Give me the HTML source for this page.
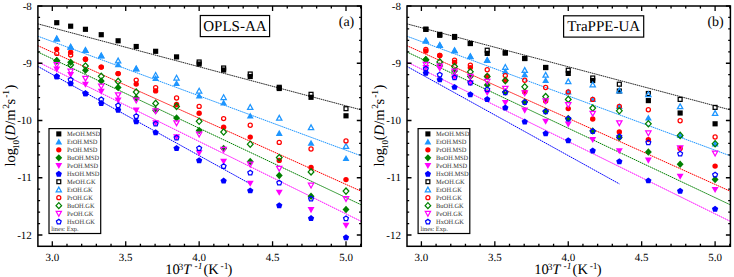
<!DOCTYPE html>
<html><head><meta charset="utf-8"><style>
html,body{margin:0;padding:0;background:#fff;width:734px;height:277px;overflow:hidden}
svg{display:block}
</style></head><body>
<svg width="734" height="277" viewBox="0 0 734 277" font-family='"Liberation Serif", serif' fill="#000" text-rendering="geometricPrecision"><line x1="37.90" y1="23.88" x2="361.30" y2="109.91" stroke="#000000" stroke-width="0.85" stroke-dasharray="1.6 0.6"/>
<line x1="37.90" y1="36.22" x2="361.30" y2="155.88" stroke="#1e96ff" stroke-width="1" stroke-dasharray="1.6 0.6"/>
<line x1="37.90" y1="45.70" x2="361.30" y2="191.30" stroke="#ff0000" stroke-width="1" stroke-dasharray="1.6 0.6"/>
<line x1="37.90" y1="52.01" x2="361.30" y2="204.85" stroke="#008000" stroke-width="1" stroke-dasharray="1.6 0.6"/>
<line x1="37.90" y1="61.96" x2="361.30" y2="221.40" stroke="#ff00ff" stroke-width="1" stroke-dasharray="1.6 0.6"/>
<line x1="37.90" y1="66.44" x2="250.30" y2="183.90" stroke="#0000ff" stroke-width="1" stroke-dasharray="1.6 0.6"/>
<rect x="54.16" y="20.11" width="5.17" height="5.17" fill="#000000"/>
<rect x="68.07" y="23.61" width="5.17" height="5.17" fill="#000000"/>
<rect x="82.87" y="26.71" width="5.17" height="5.17" fill="#000000"/>
<rect x="98.67" y="32.12" width="5.17" height="5.17" fill="#000000"/>
<rect x="115.54" y="38.21" width="5.17" height="5.17" fill="#000000"/>
<rect x="133.63" y="43.91" width="5.17" height="5.17" fill="#000000"/>
<rect x="153.05" y="48.71" width="5.17" height="5.17" fill="#000000"/>
<rect x="173.97" y="54.31" width="5.17" height="5.17" fill="#000000"/>
<rect x="196.56" y="61.41" width="5.17" height="5.17" fill="#000000"/>
<rect x="221.04" y="67.42" width="5.17" height="5.17" fill="#000000"/>
<rect x="247.64" y="73.92" width="5.17" height="5.17" fill="#000000"/>
<rect x="276.67" y="85.92" width="5.17" height="5.17" fill="#000000"/>
<rect x="308.45" y="94.72" width="5.17" height="5.17" fill="#000000"/>
<rect x="343.42" y="113.22" width="5.17" height="5.17" fill="#000000"/>
<polygon points="56.75,35.37 60.21,41.42 53.28,41.42" fill="#1e96ff"/>
<polygon points="70.66,43.57 74.12,49.62 67.19,49.62" fill="#1e96ff"/>
<polygon points="85.46,46.87 88.92,52.92 81.99,52.92" fill="#1e96ff"/>
<polygon points="101.25,52.27 104.72,58.32 97.79,58.32" fill="#1e96ff"/>
<polygon points="118.13,61.17 121.59,67.22 114.66,67.22" fill="#1e96ff"/>
<polygon points="136.21,65.27 139.68,71.32 132.75,71.32" fill="#1e96ff"/>
<polygon points="155.64,75.07 159.10,81.12 152.17,81.12" fill="#1e96ff"/>
<polygon points="176.56,79.97 180.02,86.02 173.09,86.02" fill="#1e96ff"/>
<polygon points="199.15,92.47 202.61,98.52 195.68,98.52" fill="#1e96ff"/>
<polygon points="223.63,99.57 227.09,105.62 220.16,105.62" fill="#1e96ff"/>
<polygon points="250.23,112.57 253.69,118.62 246.76,118.62" fill="#1e96ff"/>
<polygon points="279.25,129.87 282.72,135.92 275.79,135.92" fill="#1e96ff"/>
<polygon points="311.04,139.67 314.50,145.72 307.57,145.72" fill="#1e96ff"/>
<polygon points="346.00,154.97 349.46,161.02 342.54,161.02" fill="#1e96ff"/>
<circle cx="56.75" cy="49.10" r="2.70" fill="#ff0000"/>
<circle cx="70.66" cy="52.30" r="2.70" fill="#ff0000"/>
<circle cx="85.46" cy="59.20" r="2.70" fill="#ff0000"/>
<circle cx="101.25" cy="67.10" r="2.70" fill="#ff0000"/>
<circle cx="118.13" cy="73.60" r="2.70" fill="#ff0000"/>
<circle cx="136.21" cy="84.10" r="2.70" fill="#ff0000"/>
<circle cx="155.64" cy="90.90" r="2.70" fill="#ff0000"/>
<circle cx="176.56" cy="104.50" r="2.70" fill="#ff0000"/>
<circle cx="199.15" cy="113.20" r="2.70" fill="#ff0000"/>
<circle cx="223.63" cy="127.30" r="2.70" fill="#ff0000"/>
<circle cx="250.23" cy="137.10" r="2.70" fill="#ff0000"/>
<circle cx="279.25" cy="160.40" r="2.70" fill="#ff0000"/>
<circle cx="311.04" cy="167.50" r="2.70" fill="#ff0000"/>
<circle cx="346.00" cy="179.60" r="2.70" fill="#ff0000"/>
<polygon points="56.75,57.06 60.21,60.80 56.75,64.54 53.28,60.80" fill="#008000"/>
<polygon points="70.66,58.46 74.12,62.20 70.66,65.94 67.19,62.20" fill="#008000"/>
<polygon points="85.46,66.56 88.92,70.30 85.46,74.04 81.99,70.30" fill="#008000"/>
<polygon points="101.25,77.36 104.72,81.10 101.25,84.84 97.79,81.10" fill="#008000"/>
<polygon points="118.13,83.66 121.59,87.40 118.13,91.14 114.66,87.40" fill="#008000"/>
<polygon points="136.21,94.26 139.68,98.00 136.21,101.74 132.75,98.00" fill="#008000"/>
<polygon points="155.64,106.76 159.10,110.50 155.64,114.24 152.17,110.50" fill="#008000"/>
<polygon points="176.56,114.36 180.02,118.10 176.56,121.84 173.09,118.10" fill="#008000"/>
<polygon points="199.15,126.76 202.61,130.50 199.15,134.24 195.68,130.50" fill="#008000"/>
<polygon points="223.63,144.76 227.09,148.50 223.63,152.24 220.16,148.50" fill="#008000"/>
<polygon points="250.23,157.76 253.69,161.50 250.23,165.24 246.76,161.50" fill="#008000"/>
<polygon points="279.25,171.86 282.72,175.60 279.25,179.34 275.79,175.60" fill="#008000"/>
<polygon points="311.04,192.56 314.50,196.30 311.04,200.04 307.57,196.30" fill="#008000"/>
<polygon points="346.00,205.86 349.46,209.60 346.00,213.34 342.54,209.60" fill="#008000"/>
<polygon points="56.75,72.63 60.21,66.58 53.28,66.58" fill="#ff00ff"/>
<polygon points="70.66,78.03 74.12,71.98 67.19,71.98" fill="#ff00ff"/>
<polygon points="85.46,87.83 88.92,81.78 81.99,81.78" fill="#ff00ff"/>
<polygon points="101.25,94.83 104.72,88.78 97.79,88.78" fill="#ff00ff"/>
<polygon points="118.13,103.53 121.59,97.48 114.66,97.48" fill="#ff00ff"/>
<polygon points="136.21,113.63 139.68,107.58 132.75,107.58" fill="#ff00ff"/>
<polygon points="155.64,126.33 159.10,120.28 152.17,120.28" fill="#ff00ff"/>
<polygon points="176.56,140.33 180.02,134.28 173.09,134.28" fill="#ff00ff"/>
<polygon points="199.15,156.23 202.61,150.18 195.68,150.18" fill="#ff00ff"/>
<polygon points="223.63,164.83 227.09,158.78 220.16,158.78" fill="#ff00ff"/>
<polygon points="250.23,186.73 253.69,180.68 246.76,180.68" fill="#ff00ff"/>
<polygon points="279.25,195.73 282.72,189.68 275.79,189.68" fill="#ff00ff"/>
<polygon points="311.04,213.13 314.50,207.08 307.57,207.08" fill="#ff00ff"/>
<polygon points="346.00,228.73 349.46,222.68 342.54,222.68" fill="#ff00ff"/>
<polygon points="56.75,73.30 59.89,75.58 58.69,79.27 54.81,79.27 53.61,75.58" fill="#0000ff"/>
<polygon points="70.66,80.40 73.79,82.68 72.60,86.37 68.72,86.37 67.52,82.68" fill="#0000ff"/>
<polygon points="85.46,90.20 88.60,92.48 87.40,96.17 83.52,96.17 82.32,92.48" fill="#0000ff"/>
<polygon points="101.25,100.00 104.39,102.28 103.19,105.97 99.31,105.97 98.11,102.28" fill="#0000ff"/>
<polygon points="118.13,106.70 121.27,108.98 120.07,112.67 116.19,112.67 114.99,108.98" fill="#0000ff"/>
<polygon points="136.21,118.30 139.35,120.58 138.15,124.27 134.27,124.27 133.08,120.58" fill="#0000ff"/>
<polygon points="155.64,129.20 158.78,131.48 157.58,135.17 153.70,135.17 152.50,131.48" fill="#0000ff"/>
<polygon points="176.56,145.00 179.70,147.28 178.50,150.97 174.62,150.97 173.42,147.28" fill="#0000ff"/>
<polygon points="199.15,157.20 202.29,159.48 201.09,163.17 197.21,163.17 196.01,159.48" fill="#0000ff"/>
<polygon points="223.63,177.60 226.76,179.88 225.56,183.57 221.69,183.57 220.49,179.88" fill="#0000ff"/>
<polygon points="250.23,187.40 253.37,189.68 252.17,193.37 248.29,193.37 247.09,189.68" fill="#0000ff"/>
<polygon points="279.25,202.20 282.39,204.48 281.19,208.17 277.31,208.17 276.11,204.48" fill="#0000ff"/>
<polygon points="311.04,215.10 314.17,217.38 312.98,221.07 309.10,221.07 307.90,217.38" fill="#0000ff"/>
<polygon points="346.00,234.30 349.14,236.58 347.94,240.27 344.06,240.27 342.86,236.58" fill="#0000ff"/>
<rect x="197.19" y="60.04" width="3.92" height="3.92" fill="none" stroke="#000000" stroke-width="1.25"/>
<rect x="221.67" y="66.04" width="3.92" height="3.92" fill="none" stroke="#000000" stroke-width="1.25"/>
<rect x="248.27" y="72.04" width="3.92" height="3.92" fill="none" stroke="#000000" stroke-width="1.25"/>
<rect x="277.29" y="85.34" width="3.92" height="3.92" fill="none" stroke="#000000" stroke-width="1.25"/>
<rect x="309.08" y="92.34" width="3.92" height="3.92" fill="none" stroke="#000000" stroke-width="1.25"/>
<rect x="344.04" y="106.74" width="3.92" height="3.92" fill="none" stroke="#000000" stroke-width="1.25"/>
<polygon points="56.75,36.06 59.40,40.86 54.10,40.86" fill="none" stroke="#1e96ff" stroke-width="1.25"/>
<polygon points="70.66,44.26 73.31,49.06 68.00,49.06" fill="none" stroke="#1e96ff" stroke-width="1.25"/>
<polygon points="85.46,47.56 88.11,52.36 82.81,52.36" fill="none" stroke="#1e96ff" stroke-width="1.25"/>
<polygon points="101.25,52.96 103.90,57.76 98.60,57.76" fill="none" stroke="#1e96ff" stroke-width="1.25"/>
<polygon points="118.13,58.16 120.78,62.96 115.48,62.96" fill="none" stroke="#1e96ff" stroke-width="1.25"/>
<polygon points="136.21,65.96 138.87,70.76 133.56,70.76" fill="none" stroke="#1e96ff" stroke-width="1.25"/>
<polygon points="155.64,72.56 158.29,77.36 152.99,77.36" fill="none" stroke="#1e96ff" stroke-width="1.25"/>
<polygon points="176.56,75.26 179.21,80.06 173.91,80.06" fill="none" stroke="#1e96ff" stroke-width="1.25"/>
<polygon points="199.15,88.26 201.80,93.06 196.50,93.06" fill="none" stroke="#1e96ff" stroke-width="1.25"/>
<polygon points="223.63,94.76 226.28,99.56 220.97,99.56" fill="none" stroke="#1e96ff" stroke-width="1.25"/>
<polygon points="250.23,104.56 252.88,109.36 247.58,109.36" fill="none" stroke="#1e96ff" stroke-width="1.25"/>
<polygon points="279.25,115.36 281.90,120.16 276.60,120.16" fill="none" stroke="#1e96ff" stroke-width="1.25"/>
<polygon points="311.04,124.86 313.69,129.66 308.38,129.66" fill="none" stroke="#1e96ff" stroke-width="1.25"/>
<polygon points="346.00,143.66 348.65,148.46 343.35,148.46" fill="none" stroke="#1e96ff" stroke-width="1.25"/>
<circle cx="56.75" cy="53.40" r="2.07" fill="none" stroke="#ff0000" stroke-width="1.25"/>
<circle cx="70.66" cy="55.10" r="2.07" fill="none" stroke="#ff0000" stroke-width="1.25"/>
<circle cx="85.46" cy="59.20" r="2.07" fill="none" stroke="#ff0000" stroke-width="1.25"/>
<circle cx="101.25" cy="67.10" r="2.07" fill="none" stroke="#ff0000" stroke-width="1.25"/>
<circle cx="118.13" cy="73.60" r="2.07" fill="none" stroke="#ff0000" stroke-width="1.25"/>
<circle cx="136.21" cy="80.10" r="2.07" fill="none" stroke="#ff0000" stroke-width="1.25"/>
<circle cx="155.64" cy="87.60" r="2.07" fill="none" stroke="#ff0000" stroke-width="1.25"/>
<circle cx="176.56" cy="98.00" r="2.07" fill="none" stroke="#ff0000" stroke-width="1.25"/>
<circle cx="199.15" cy="106.40" r="2.07" fill="none" stroke="#ff0000" stroke-width="1.25"/>
<circle cx="223.63" cy="118.60" r="2.07" fill="none" stroke="#ff0000" stroke-width="1.25"/>
<circle cx="250.23" cy="125.20" r="2.07" fill="none" stroke="#ff0000" stroke-width="1.25"/>
<circle cx="279.25" cy="142.40" r="2.07" fill="none" stroke="#ff0000" stroke-width="1.25"/>
<circle cx="311.04" cy="149.00" r="2.07" fill="none" stroke="#ff0000" stroke-width="1.25"/>
<circle cx="346.00" cy="140.90" r="2.07" fill="none" stroke="#ff0000" stroke-width="1.25"/>
<polygon points="56.75,57.68 59.59,60.80 56.75,63.91 53.91,60.80" fill="none" stroke="#008000" stroke-width="1.25"/>
<polygon points="70.66,61.79 73.50,64.90 70.66,68.02 67.82,64.90" fill="none" stroke="#008000" stroke-width="1.25"/>
<polygon points="85.46,62.88 88.30,66.00 85.46,69.11 82.62,66.00" fill="none" stroke="#008000" stroke-width="1.25"/>
<polygon points="101.25,73.19 104.09,76.30 101.25,79.41 98.41,76.30" fill="none" stroke="#008000" stroke-width="1.25"/>
<polygon points="118.13,78.29 120.97,81.40 118.13,84.52 115.29,81.40" fill="none" stroke="#008000" stroke-width="1.25"/>
<polygon points="136.21,88.89 139.05,92.00 136.21,95.11 133.37,92.00" fill="none" stroke="#008000" stroke-width="1.25"/>
<polygon points="155.64,100.29 158.48,103.40 155.64,106.52 152.80,103.40" fill="none" stroke="#008000" stroke-width="1.25"/>
<polygon points="176.56,103.29 179.40,106.40 176.56,109.52 173.72,106.40" fill="none" stroke="#008000" stroke-width="1.25"/>
<polygon points="199.15,118.19 201.99,121.30 199.15,124.41 196.31,121.30" fill="none" stroke="#008000" stroke-width="1.25"/>
<polygon points="223.63,128.88 226.47,132.00 223.63,135.12 220.79,132.00" fill="none" stroke="#008000" stroke-width="1.25"/>
<polygon points="250.23,141.08 253.07,144.20 250.23,147.31 247.39,144.20" fill="none" stroke="#008000" stroke-width="1.25"/>
<polygon points="279.25,154.48 282.09,157.60 279.25,160.72 276.41,157.60" fill="none" stroke="#008000" stroke-width="1.25"/>
<polygon points="311.04,168.78 313.88,171.90 311.04,175.02 308.20,171.90" fill="none" stroke="#008000" stroke-width="1.25"/>
<polygon points="346.00,187.98 348.84,191.10 346.00,194.22 343.16,191.10" fill="none" stroke="#008000" stroke-width="1.25"/>
<polygon points="56.75,67.54 59.40,62.74 54.10,62.74" fill="none" stroke="#ff00ff" stroke-width="1.25"/>
<polygon points="70.66,74.04 73.31,69.24 68.00,69.24" fill="none" stroke="#ff00ff" stroke-width="1.25"/>
<polygon points="85.46,81.14 88.11,76.34 82.81,76.34" fill="none" stroke="#ff00ff" stroke-width="1.25"/>
<polygon points="101.25,89.04 103.90,84.24 98.60,84.24" fill="none" stroke="#ff00ff" stroke-width="1.25"/>
<polygon points="118.13,97.64 120.78,92.84 115.48,92.84" fill="none" stroke="#ff00ff" stroke-width="1.25"/>
<polygon points="136.21,102.94 138.87,98.14 133.56,98.14" fill="none" stroke="#ff00ff" stroke-width="1.25"/>
<polygon points="155.64,113.64 158.29,108.84 152.99,108.84" fill="none" stroke="#ff00ff" stroke-width="1.25"/>
<polygon points="176.56,125.64 179.21,120.84 173.91,120.84" fill="none" stroke="#ff00ff" stroke-width="1.25"/>
<polygon points="199.15,137.04 201.80,132.24 196.50,132.24" fill="none" stroke="#ff00ff" stroke-width="1.25"/>
<polygon points="223.63,152.24 226.28,147.44 220.97,147.44" fill="none" stroke="#ff00ff" stroke-width="1.25"/>
<polygon points="250.23,166.94 252.88,162.14 247.58,162.14" fill="none" stroke="#ff00ff" stroke-width="1.25"/>
<polygon points="279.25,171.14 281.90,166.34 276.60,166.34" fill="none" stroke="#ff00ff" stroke-width="1.25"/>
<polygon points="311.04,188.04 313.69,183.24 308.38,183.24" fill="none" stroke="#ff00ff" stroke-width="1.25"/>
<polygon points="346.00,201.34 348.65,196.54 343.35,196.54" fill="none" stroke="#ff00ff" stroke-width="1.25"/>
<polygon points="56.75,74.05 59.18,75.81 58.25,78.66 55.25,78.66 54.32,75.81" fill="none" stroke="#0000ff" stroke-width="1.25"/>
<polygon points="70.66,77.35 73.08,79.11 72.16,81.96 69.16,81.96 68.23,79.11" fill="none" stroke="#0000ff" stroke-width="1.25"/>
<polygon points="85.46,90.95 87.88,92.71 86.96,95.56 83.96,95.56 83.03,92.71" fill="none" stroke="#0000ff" stroke-width="1.25"/>
<polygon points="101.25,96.95 103.68,98.71 102.75,101.56 99.75,101.56 98.82,98.71" fill="none" stroke="#0000ff" stroke-width="1.25"/>
<polygon points="118.13,102.95 120.55,104.71 119.63,107.56 116.63,107.56 115.70,104.71" fill="none" stroke="#0000ff" stroke-width="1.25"/>
<polygon points="136.21,113.65 138.64,115.41 137.71,118.26 134.72,118.26 133.79,115.41" fill="none" stroke="#0000ff" stroke-width="1.25"/>
<polygon points="155.64,121.25 158.06,123.01 157.14,125.86 154.14,125.86 153.21,123.01" fill="none" stroke="#0000ff" stroke-width="1.25"/>
<polygon points="176.56,135.35 178.98,137.11 178.06,139.96 175.06,139.96 174.13,137.11" fill="none" stroke="#0000ff" stroke-width="1.25"/>
<polygon points="199.15,145.75 201.58,147.51 200.65,150.36 197.65,150.36 196.72,147.51" fill="none" stroke="#0000ff" stroke-width="1.25"/>
<polygon points="223.63,163.65 226.05,165.41 225.12,168.26 222.13,168.26 221.20,165.41" fill="none" stroke="#0000ff" stroke-width="1.25"/>
<polygon points="250.23,170.15 252.65,171.91 251.73,174.76 248.73,174.76 247.80,171.91" fill="none" stroke="#0000ff" stroke-width="1.25"/>
<polygon points="279.25,180.35 281.68,182.11 280.75,184.96 277.75,184.96 276.82,182.11" fill="none" stroke="#0000ff" stroke-width="1.25"/>
<polygon points="311.04,196.15 313.46,197.91 312.53,200.76 309.54,200.76 308.61,197.91" fill="none" stroke="#0000ff" stroke-width="1.25"/>
<polygon points="346.00,216.05 348.43,217.81 347.50,220.66 344.50,220.66 343.57,217.81" fill="none" stroke="#0000ff" stroke-width="1.25"/>
<rect x="49.00" y="128.6" width="51.70" height="104.90" fill="#fff" stroke="#000" stroke-width="1.2"/>
<rect x="56.26" y="131.36" width="5.08" height="5.08" fill="#000000"/>
<text x="67.00" y="136.10" font-size="6.4" fill="#333" text-rendering="geometricPrecision">MeOH.MSD</text>
<polygon points="58.80,138.60 62.20,144.54 55.40,144.54" fill="#1e96ff"/>
<text x="67.00" y="144.07" font-size="6.4" fill="#333" text-rendering="geometricPrecision">EtOH.MSD</text>
<circle cx="58.80" cy="149.84" r="2.65" fill="#ff0000"/>
<text x="67.00" y="152.04" font-size="6.4" fill="#333" text-rendering="geometricPrecision">PrOH.MSD</text>
<polygon points="58.80,154.14 62.20,157.81 58.80,161.48 55.40,157.81" fill="#008000"/>
<text x="67.00" y="160.01" font-size="6.4" fill="#333" text-rendering="geometricPrecision">BuOH.MSD</text>
<polygon points="58.80,169.05 62.20,163.11 55.40,163.11" fill="#ff00ff"/>
<text x="67.00" y="167.98" font-size="6.4" fill="#333" text-rendering="geometricPrecision">PeOH.MSD</text>
<polygon points="58.80,170.81 61.88,173.05 60.70,176.67 56.90,176.67 55.72,173.05" fill="#0000ff"/>
<text x="67.00" y="175.95" font-size="6.4" fill="#333" text-rendering="geometricPrecision">HxOH.MSD</text>
<rect x="56.89" y="179.81" width="3.83" height="3.83" fill="none" stroke="#000000" stroke-width="1.25"/>
<text x="67.00" y="183.92" font-size="6.4" fill="#333" text-rendering="geometricPrecision">MeOH.GK</text>
<polygon points="58.80,187.11 61.39,191.80 56.21,191.80" fill="none" stroke="#1e96ff" stroke-width="1.25"/>
<text x="67.00" y="191.89" font-size="6.4" fill="#333" text-rendering="geometricPrecision">EtOH.GK</text>
<circle cx="58.80" cy="197.66" r="2.02" fill="none" stroke="#ff0000" stroke-width="1.25"/>
<text x="67.00" y="199.86" font-size="6.4" fill="#333" text-rendering="geometricPrecision">PrOH.GK</text>
<polygon points="58.80,202.58 61.58,205.63 58.80,208.68 56.02,205.63" fill="none" stroke="#008000" stroke-width="1.25"/>
<text x="67.00" y="207.83" font-size="6.4" fill="#333" text-rendering="geometricPrecision">BuOH.GK</text>
<polygon points="58.80,216.18 61.39,211.49 56.21,211.49" fill="none" stroke="#ff00ff" stroke-width="1.25"/>
<text x="67.00" y="215.80" font-size="6.4" fill="#333" text-rendering="geometricPrecision">PeOH.GK</text>
<polygon points="58.80,219.38 61.17,221.10 60.26,223.88 57.34,223.88 56.43,221.10" fill="none" stroke="#0000ff" stroke-width="1.25"/>
<text x="67.00" y="223.77" font-size="6.4" fill="#333" text-rendering="geometricPrecision">HxOH.GK</text>
<text x="51.30" y="231.20" font-size="6.4" fill="#333" text-rendering="geometricPrecision">lines: Exp.</text>
<rect x="37.90" y="6.00" width="323.40" height="240.30" fill="none" stroke="#000" stroke-width="1.5"/>
<path d="M52.30 246.3v-5M52.30 6.0v5M66.99 246.3v-2.6M66.99 6.0v2.6M81.67 246.3v-2.6M81.67 6.0v2.6M96.35 246.3v-2.6M96.35 6.0v2.6M111.04 246.3v-2.6M111.04 6.0v2.6M125.72 246.3v-5M125.72 6.0v5M140.41 246.3v-2.6M140.41 6.0v2.6M155.10 246.3v-2.6M155.10 6.0v2.6M169.78 246.3v-2.6M169.78 6.0v2.6M184.46 246.3v-2.6M184.46 6.0v2.6M199.15 246.3v-5M199.15 6.0v5M213.83 246.3v-2.6M213.83 6.0v2.6M228.52 246.3v-2.6M228.52 6.0v2.6M243.20 246.3v-2.6M243.20 6.0v2.6M257.89 246.3v-2.6M257.89 6.0v2.6M272.57 246.3v-5M272.57 6.0v5M287.26 246.3v-2.6M287.26 6.0v2.6M301.94 246.3v-2.6M301.94 6.0v2.6M316.63 246.3v-2.6M316.63 6.0v2.6M331.32 246.3v-2.6M331.32 6.0v2.6M346.00 246.3v-5M346.00 6.0v5M360.68 246.3v-2.6M360.68 6.0v2.6M37.9 6.00h4.5M361.3 6.00h-4.5M37.9 17.45h2.2M361.3 17.45h-2.2M37.9 28.90h2.2M361.3 28.90h-2.2M37.9 40.35h2.2M361.3 40.35h-2.2M37.9 51.80h2.2M361.3 51.80h-2.2M37.9 63.25h4.5M361.3 63.25h-4.5M37.9 74.70h2.2M361.3 74.70h-2.2M37.9 86.15h2.2M361.3 86.15h-2.2M37.9 97.60h2.2M361.3 97.60h-2.2M37.9 109.05h2.2M361.3 109.05h-2.2M37.9 120.50h4.5M361.3 120.50h-4.5M37.9 131.95h2.2M361.3 131.95h-2.2M37.9 143.40h2.2M361.3 143.40h-2.2M37.9 154.85h2.2M361.3 154.85h-2.2M37.9 166.30h2.2M361.3 166.30h-2.2M37.9 177.75h4.5M361.3 177.75h-4.5M37.9 189.20h2.2M361.3 189.20h-2.2M37.9 200.65h2.2M361.3 200.65h-2.2M37.9 212.10h2.2M361.3 212.10h-2.2M37.9 223.55h2.2M361.3 223.55h-2.2M37.9 235.00h4.5M361.3 235.00h-4.5" stroke="#000" stroke-width="1.3" fill="none"/>
<text x="52.30" y="261.2" font-size="11" text-anchor="middle">3.0</text>
<text x="125.72" y="261.2" font-size="11" text-anchor="middle">3.5</text>
<text x="199.15" y="261.2" font-size="11" text-anchor="middle">4.0</text>
<text x="272.57" y="261.2" font-size="11" text-anchor="middle">4.5</text>
<text x="346.00" y="261.2" font-size="11" text-anchor="middle">5.0</text>
<text x="31.80" y="9.60" font-size="11" text-anchor="end">-8</text>
<text x="31.80" y="66.85" font-size="11" text-anchor="end">-9</text>
<text x="31.80" y="124.10" font-size="11" text-anchor="end">-10</text>
<text x="31.80" y="181.35" font-size="11" text-anchor="end">-11</text>
<text x="31.80" y="238.60" font-size="11" text-anchor="end">-12</text>
<text x="165.20" y="273.80" font-size="14.5">10</text>
<text x="178.60" y="269.80" font-size="9.5">3</text>
<text x="183.10" y="273.80" font-size="14.5" font-style="italic">T</text>
<text x="194.50" y="269.20" font-size="9.5" font-style="italic">-1</text>
<text x="203.50" y="273.80" font-size="14.5">(K</text>
<text x="220.60" y="268.90" font-size="9.5">-1</text>
<text x="227.60" y="273.80" font-size="14.5">)</text>
<text transform="translate(15.00,166.60) rotate(-90)" font-size="14.5">log</text>
<text transform="translate(19.30,149.00) rotate(-90)" font-size="9">10</text>
<text transform="translate(15.00,140.20) rotate(-90)" font-size="14.5">(</text>
<text transform="translate(15.00,135.50) rotate(-90)" font-size="14.5" font-style="italic">D</text>
<text transform="translate(15.00,124.80) rotate(-90)" font-size="14.5">/</text>
<text transform="translate(15.00,120.80) rotate(-90)" font-size="14.5">m</text>
<text transform="translate(9.20,108.80) rotate(-90)" font-size="9.5">2</text>
<text transform="translate(15.00,104.60) rotate(-90)" font-size="14.5">s</text>
<text transform="translate(9.20,97.80) rotate(-90)" font-size="9.5">-1</text>
<text transform="translate(15.00,89.60) rotate(-90)" font-size="14.5">)</text>
<rect x="200.30" y="15.5" width="69.30" height="21.10" fill="#fff" stroke="#000" stroke-width="1.2"/>
<text x="234.95" y="30.8" font-size="15" text-anchor="middle">OPLS-AA</text>
<text x="346.50" y="25.6" font-size="14" text-anchor="middle">(a)</text>
<line x1="407.00" y1="23.88" x2="730.40" y2="109.91" stroke="#000000" stroke-width="0.85" stroke-dasharray="1.6 0.6"/>
<line x1="407.00" y1="36.22" x2="730.40" y2="155.88" stroke="#1e96ff" stroke-width="1" stroke-dasharray="1.6 0.6"/>
<line x1="407.00" y1="45.70" x2="730.40" y2="191.30" stroke="#ff0000" stroke-width="1" stroke-dasharray="1.6 0.6"/>
<line x1="407.00" y1="52.01" x2="730.40" y2="204.85" stroke="#008000" stroke-width="1" stroke-dasharray="1.6 0.6"/>
<line x1="407.00" y1="61.96" x2="730.40" y2="221.40" stroke="#ff00ff" stroke-width="1" stroke-dasharray="1.6 0.6"/>
<line x1="407.00" y1="66.44" x2="619.40" y2="183.90" stroke="#0000ff" stroke-width="1" stroke-dasharray="1.6 0.6"/>
<rect x="423.27" y="26.71" width="5.17" height="5.17" fill="#000000"/>
<rect x="437.17" y="31.81" width="5.17" height="5.17" fill="#000000"/>
<rect x="451.97" y="34.71" width="5.17" height="5.17" fill="#000000"/>
<rect x="467.77" y="40.91" width="5.17" height="5.17" fill="#000000"/>
<rect x="484.64" y="50.81" width="5.17" height="5.17" fill="#000000"/>
<rect x="502.73" y="50.31" width="5.17" height="5.17" fill="#000000"/>
<rect x="522.15" y="55.91" width="5.17" height="5.17" fill="#000000"/>
<rect x="543.07" y="64.92" width="5.17" height="5.17" fill="#000000"/>
<rect x="565.66" y="70.82" width="5.17" height="5.17" fill="#000000"/>
<rect x="590.14" y="77.92" width="5.17" height="5.17" fill="#000000"/>
<rect x="616.74" y="88.42" width="5.17" height="5.17" fill="#000000"/>
<rect x="645.77" y="98.02" width="5.17" height="5.17" fill="#000000"/>
<rect x="677.55" y="110.42" width="5.17" height="5.17" fill="#000000"/>
<rect x="712.51" y="121.22" width="5.17" height="5.17" fill="#000000"/>
<polygon points="425.85,37.47 429.31,43.52 422.39,43.52" fill="#1e96ff"/>
<polygon points="439.76,41.77 443.22,47.82 436.29,47.82" fill="#1e96ff"/>
<polygon points="454.56,47.17 458.02,53.22 451.09,53.22" fill="#1e96ff"/>
<polygon points="470.35,53.07 473.81,59.12 466.89,59.12" fill="#1e96ff"/>
<polygon points="487.23,56.77 490.69,62.82 483.76,62.82" fill="#1e96ff"/>
<polygon points="505.31,68.07 508.78,74.12 501.85,74.12" fill="#1e96ff"/>
<polygon points="524.74,71.27 528.20,77.32 521.27,77.32" fill="#1e96ff"/>
<polygon points="545.66,76.97 549.12,83.02 542.19,83.02" fill="#1e96ff"/>
<polygon points="568.25,88.57 571.72,94.62 564.78,94.62" fill="#1e96ff"/>
<polygon points="592.73,96.07 596.19,102.12 589.26,102.12" fill="#1e96ff"/>
<polygon points="619.33,103.07 622.79,109.12 615.86,109.12" fill="#1e96ff"/>
<polygon points="648.35,114.57 651.82,120.62 644.89,120.62" fill="#1e96ff"/>
<polygon points="680.14,132.07 683.60,138.12 676.67,138.12" fill="#1e96ff"/>
<polygon points="715.10,140.37 718.57,146.42 711.63,146.42" fill="#1e96ff"/>
<circle cx="425.85" cy="51.00" r="2.70" fill="#ff0000"/>
<circle cx="439.76" cy="55.50" r="2.70" fill="#ff0000"/>
<circle cx="454.56" cy="62.50" r="2.70" fill="#ff0000"/>
<circle cx="470.35" cy="67.60" r="2.70" fill="#ff0000"/>
<circle cx="487.23" cy="76.30" r="2.70" fill="#ff0000"/>
<circle cx="505.31" cy="80.60" r="2.70" fill="#ff0000"/>
<circle cx="524.74" cy="92.00" r="2.70" fill="#ff0000"/>
<circle cx="545.66" cy="101.00" r="2.70" fill="#ff0000"/>
<circle cx="568.25" cy="108.60" r="2.70" fill="#ff0000"/>
<circle cx="592.73" cy="119.00" r="2.70" fill="#ff0000"/>
<circle cx="619.33" cy="132.00" r="2.70" fill="#ff0000"/>
<circle cx="648.35" cy="139.60" r="2.70" fill="#ff0000"/>
<circle cx="680.14" cy="148.40" r="2.70" fill="#ff0000"/>
<circle cx="715.10" cy="166.10" r="2.70" fill="#ff0000"/>
<polygon points="425.85,56.06 429.31,59.80 425.85,63.54 422.39,59.80" fill="#008000"/>
<polygon points="439.76,62.26 443.22,66.00 439.76,69.74 436.29,66.00" fill="#008000"/>
<polygon points="454.56,67.26 458.02,71.00 454.56,74.74 451.09,71.00" fill="#008000"/>
<polygon points="470.35,72.76 473.81,76.50 470.35,80.24 466.89,76.50" fill="#008000"/>
<polygon points="487.23,81.26 490.69,85.00 487.23,88.74 483.76,85.00" fill="#008000"/>
<polygon points="505.31,88.26 508.78,92.00 505.31,95.74 501.85,92.00" fill="#008000"/>
<polygon points="524.74,98.36 528.20,102.10 524.74,105.84 521.27,102.10" fill="#008000"/>
<polygon points="545.66,107.56 549.12,111.30 545.66,115.04 542.19,111.30" fill="#008000"/>
<polygon points="568.25,114.66 571.72,118.40 568.25,122.14 564.78,118.40" fill="#008000"/>
<polygon points="592.73,127.16 596.19,130.90 592.73,134.64 589.26,130.90" fill="#008000"/>
<polygon points="619.33,133.76 622.79,137.50 619.33,141.24 615.86,137.50" fill="#008000"/>
<polygon points="648.35,148.36 651.82,152.10 648.35,155.84 644.89,152.10" fill="#008000"/>
<polygon points="680.14,160.46 683.60,164.20 680.14,167.94 676.67,164.20" fill="#008000"/>
<polygon points="715.10,175.66 718.57,179.40 715.10,183.14 711.63,179.40" fill="#008000"/>
<polygon points="425.85,71.13 429.31,65.08 422.39,65.08" fill="#ff00ff"/>
<polygon points="439.76,71.83 443.22,65.78 436.29,65.78" fill="#ff00ff"/>
<polygon points="454.56,80.33 458.02,74.28 451.09,74.28" fill="#ff00ff"/>
<polygon points="470.35,86.33 473.81,80.28 466.89,80.28" fill="#ff00ff"/>
<polygon points="487.23,95.93 490.69,89.88 483.76,89.88" fill="#ff00ff"/>
<polygon points="505.31,105.93 508.78,99.88 501.85,99.88" fill="#ff00ff"/>
<polygon points="524.74,113.63 528.20,107.58 521.27,107.58" fill="#ff00ff"/>
<polygon points="545.66,124.73 549.12,118.68 542.19,118.68" fill="#ff00ff"/>
<polygon points="568.25,127.53 571.72,121.48 564.78,121.48" fill="#ff00ff"/>
<polygon points="592.73,142.93 596.19,136.88 589.26,136.88" fill="#ff00ff"/>
<polygon points="619.33,154.33 622.79,148.28 615.86,148.28" fill="#ff00ff"/>
<polygon points="648.35,163.63 651.82,157.58 644.89,157.58" fill="#ff00ff"/>
<polygon points="680.14,179.73 683.60,173.68 676.67,173.68" fill="#ff00ff"/>
<polygon points="715.10,193.03 718.57,186.98 711.63,186.98" fill="#ff00ff"/>
<polygon points="425.85,69.70 428.99,71.98 427.79,75.67 423.91,75.67 422.71,71.98" fill="#0000ff"/>
<polygon points="439.76,76.40 442.89,78.68 441.70,82.37 437.82,82.37 436.62,78.68" fill="#0000ff"/>
<polygon points="454.56,83.90 457.70,86.18 456.50,89.87 452.62,89.87 451.42,86.18" fill="#0000ff"/>
<polygon points="470.35,91.30 473.49,93.58 472.29,97.27 468.41,97.27 467.21,93.58" fill="#0000ff"/>
<polygon points="487.23,96.00 490.37,98.28 489.17,101.97 485.29,101.97 484.09,98.28" fill="#0000ff"/>
<polygon points="505.31,104.50 508.45,106.78 507.25,110.47 503.37,110.47 502.18,106.78" fill="#0000ff"/>
<polygon points="524.74,118.50 527.88,120.78 526.68,124.47 522.80,124.47 521.60,120.78" fill="#0000ff"/>
<polygon points="545.66,130.20 548.80,132.48 547.60,136.17 543.72,136.17 542.52,132.48" fill="#0000ff"/>
<polygon points="568.25,137.20 571.39,139.48 570.19,143.17 566.31,143.17 565.11,139.48" fill="#0000ff"/>
<polygon points="592.73,147.50 595.86,149.78 594.66,153.47 590.79,153.47 589.59,149.78" fill="#0000ff"/>
<polygon points="619.33,158.30 622.47,160.58 621.27,164.27 617.39,164.27 616.19,160.58" fill="#0000ff"/>
<polygon points="648.35,177.40 651.49,179.68 650.29,183.37 646.41,183.37 645.21,179.68" fill="#0000ff"/>
<polygon points="680.14,187.80 683.27,190.08 682.08,193.77 678.20,193.77 677.00,190.08" fill="#0000ff"/>
<polygon points="715.10,205.70 718.24,207.98 717.04,211.67 713.16,211.67 711.96,207.98" fill="#0000ff"/>
<rect x="423.89" y="27.34" width="3.92" height="3.92" fill="none" stroke="#000000" stroke-width="1.25"/>
<rect x="437.80" y="33.34" width="3.92" height="3.92" fill="none" stroke="#000000" stroke-width="1.25"/>
<rect x="452.60" y="34.54" width="3.92" height="3.92" fill="none" stroke="#000000" stroke-width="1.25"/>
<rect x="468.39" y="41.54" width="3.92" height="3.92" fill="none" stroke="#000000" stroke-width="1.25"/>
<rect x="485.27" y="48.24" width="3.92" height="3.92" fill="none" stroke="#000000" stroke-width="1.25"/>
<rect x="503.35" y="50.94" width="3.92" height="3.92" fill="none" stroke="#000000" stroke-width="1.25"/>
<rect x="522.78" y="56.54" width="3.92" height="3.92" fill="none" stroke="#000000" stroke-width="1.25"/>
<rect x="543.70" y="65.54" width="3.92" height="3.92" fill="none" stroke="#000000" stroke-width="1.25"/>
<rect x="566.29" y="68.24" width="3.92" height="3.92" fill="none" stroke="#000000" stroke-width="1.25"/>
<rect x="590.77" y="76.04" width="3.92" height="3.92" fill="none" stroke="#000000" stroke-width="1.25"/>
<rect x="617.37" y="82.24" width="3.92" height="3.92" fill="none" stroke="#000000" stroke-width="1.25"/>
<rect x="646.39" y="91.54" width="3.92" height="3.92" fill="none" stroke="#000000" stroke-width="1.25"/>
<rect x="678.18" y="97.44" width="3.92" height="3.92" fill="none" stroke="#000000" stroke-width="1.25"/>
<rect x="713.14" y="105.44" width="3.92" height="3.92" fill="none" stroke="#000000" stroke-width="1.25"/>
<polygon points="425.85,38.16 428.50,42.96 423.20,42.96" fill="none" stroke="#1e96ff" stroke-width="1.25"/>
<polygon points="439.76,42.46 442.41,47.26 437.10,47.26" fill="none" stroke="#1e96ff" stroke-width="1.25"/>
<polygon points="454.56,47.86 457.21,52.66 451.91,52.66" fill="none" stroke="#1e96ff" stroke-width="1.25"/>
<polygon points="470.35,53.76 473.00,58.56 467.70,58.56" fill="none" stroke="#1e96ff" stroke-width="1.25"/>
<polygon points="487.23,57.46 489.88,62.26 484.58,62.26" fill="none" stroke="#1e96ff" stroke-width="1.25"/>
<polygon points="505.31,64.56 507.97,69.36 502.66,69.36" fill="none" stroke="#1e96ff" stroke-width="1.25"/>
<polygon points="524.74,67.66 527.39,72.46 522.09,72.46" fill="none" stroke="#1e96ff" stroke-width="1.25"/>
<polygon points="545.66,72.36 548.31,77.16 543.01,77.16" fill="none" stroke="#1e96ff" stroke-width="1.25"/>
<polygon points="568.25,78.86 570.90,83.66 565.60,83.66" fill="none" stroke="#1e96ff" stroke-width="1.25"/>
<polygon points="592.73,82.06 595.38,86.86 590.07,86.86" fill="none" stroke="#1e96ff" stroke-width="1.25"/>
<polygon points="619.33,88.16 621.98,92.96 616.68,92.96" fill="none" stroke="#1e96ff" stroke-width="1.25"/>
<polygon points="648.35,91.76 651.00,96.56 645.70,96.56" fill="none" stroke="#1e96ff" stroke-width="1.25"/>
<polygon points="680.14,103.86 682.79,108.66 677.48,108.66" fill="none" stroke="#1e96ff" stroke-width="1.25"/>
<polygon points="715.10,110.66 717.75,115.46 712.45,115.46" fill="none" stroke="#1e96ff" stroke-width="1.25"/>
<circle cx="425.85" cy="49.50" r="2.07" fill="none" stroke="#ff0000" stroke-width="1.25"/>
<circle cx="439.76" cy="55.50" r="2.07" fill="none" stroke="#ff0000" stroke-width="1.25"/>
<circle cx="454.56" cy="60.10" r="2.07" fill="none" stroke="#ff0000" stroke-width="1.25"/>
<circle cx="470.35" cy="65.10" r="2.07" fill="none" stroke="#ff0000" stroke-width="1.25"/>
<circle cx="487.23" cy="69.70" r="2.07" fill="none" stroke="#ff0000" stroke-width="1.25"/>
<circle cx="505.31" cy="75.60" r="2.07" fill="none" stroke="#ff0000" stroke-width="1.25"/>
<circle cx="524.74" cy="80.30" r="2.07" fill="none" stroke="#ff0000" stroke-width="1.25"/>
<circle cx="545.66" cy="87.50" r="2.07" fill="none" stroke="#ff0000" stroke-width="1.25"/>
<circle cx="568.25" cy="91.90" r="2.07" fill="none" stroke="#ff0000" stroke-width="1.25"/>
<circle cx="592.73" cy="99.40" r="2.07" fill="none" stroke="#ff0000" stroke-width="1.25"/>
<circle cx="619.33" cy="106.40" r="2.07" fill="none" stroke="#ff0000" stroke-width="1.25"/>
<circle cx="648.35" cy="109.70" r="2.07" fill="none" stroke="#ff0000" stroke-width="1.25"/>
<circle cx="680.14" cy="120.70" r="2.07" fill="none" stroke="#ff0000" stroke-width="1.25"/>
<circle cx="715.10" cy="137.00" r="2.07" fill="none" stroke="#ff0000" stroke-width="1.25"/>
<polygon points="425.85,56.68 428.69,59.80 425.85,62.91 423.01,59.80" fill="none" stroke="#008000" stroke-width="1.25"/>
<polygon points="439.76,58.78 442.60,61.90 439.76,65.02 436.92,61.90" fill="none" stroke="#008000" stroke-width="1.25"/>
<polygon points="454.56,63.48 457.40,66.60 454.56,69.71 451.72,66.60" fill="none" stroke="#008000" stroke-width="1.25"/>
<polygon points="470.35,68.69 473.19,71.80 470.35,74.91 467.51,71.80" fill="none" stroke="#008000" stroke-width="1.25"/>
<polygon points="487.23,73.39 490.07,76.50 487.23,79.61 484.39,76.50" fill="none" stroke="#008000" stroke-width="1.25"/>
<polygon points="505.31,77.48 508.15,80.60 505.31,83.71 502.47,80.60" fill="none" stroke="#008000" stroke-width="1.25"/>
<polygon points="524.74,83.69 527.58,86.80 524.74,89.91 521.90,86.80" fill="none" stroke="#008000" stroke-width="1.25"/>
<polygon points="545.66,93.48 548.50,96.60 545.66,99.71 542.82,96.60" fill="none" stroke="#008000" stroke-width="1.25"/>
<polygon points="568.25,96.29 571.09,99.40 568.25,102.52 565.41,99.40" fill="none" stroke="#008000" stroke-width="1.25"/>
<polygon points="592.73,104.98 595.57,108.10 592.73,111.21 589.89,108.10" fill="none" stroke="#008000" stroke-width="1.25"/>
<polygon points="619.33,107.69 622.17,110.80 619.33,113.91 616.49,110.80" fill="none" stroke="#008000" stroke-width="1.25"/>
<polygon points="648.35,120.69 651.19,123.80 648.35,126.91 645.51,123.80" fill="none" stroke="#008000" stroke-width="1.25"/>
<polygon points="680.14,132.28 682.98,135.40 680.14,138.52 677.30,135.40" fill="none" stroke="#008000" stroke-width="1.25"/>
<polygon points="715.10,140.58 717.94,143.70 715.10,146.81 712.26,143.70" fill="none" stroke="#008000" stroke-width="1.25"/>
<polygon points="425.85,67.14 428.50,62.34 423.20,62.34" fill="none" stroke="#ff00ff" stroke-width="1.25"/>
<polygon points="439.76,68.94 442.41,64.14 437.10,64.14" fill="none" stroke="#ff00ff" stroke-width="1.25"/>
<polygon points="454.56,73.94 457.21,69.14 451.91,69.14" fill="none" stroke="#ff00ff" stroke-width="1.25"/>
<polygon points="470.35,79.14 473.00,74.34 467.70,74.34" fill="none" stroke="#ff00ff" stroke-width="1.25"/>
<polygon points="487.23,84.24 489.88,79.44 484.58,79.44" fill="none" stroke="#ff00ff" stroke-width="1.25"/>
<polygon points="505.31,91.14 507.97,86.34 502.66,86.34" fill="none" stroke="#ff00ff" stroke-width="1.25"/>
<polygon points="524.74,95.64 527.39,90.84 522.09,90.84" fill="none" stroke="#ff00ff" stroke-width="1.25"/>
<polygon points="545.66,103.64 548.31,98.84 543.01,98.84" fill="none" stroke="#ff00ff" stroke-width="1.25"/>
<polygon points="568.25,107.44 570.90,102.64 565.60,102.64" fill="none" stroke="#ff00ff" stroke-width="1.25"/>
<polygon points="592.73,116.14 595.38,111.34 590.07,111.34" fill="none" stroke="#ff00ff" stroke-width="1.25"/>
<polygon points="619.33,125.64 621.98,120.84 616.68,120.84" fill="none" stroke="#ff00ff" stroke-width="1.25"/>
<polygon points="648.35,135.74 651.00,130.94 645.70,130.94" fill="none" stroke="#ff00ff" stroke-width="1.25"/>
<polygon points="680.14,150.64 682.79,145.84 677.48,145.84" fill="none" stroke="#ff00ff" stroke-width="1.25"/>
<polygon points="715.10,155.94 717.75,151.14 712.45,151.14" fill="none" stroke="#ff00ff" stroke-width="1.25"/>
<polygon points="425.85,66.15 428.28,67.91 427.35,70.76 424.35,70.76 423.42,67.91" fill="none" stroke="#0000ff" stroke-width="1.25"/>
<polygon points="439.76,72.15 442.18,73.91 441.26,76.76 438.26,76.76 437.33,73.91" fill="none" stroke="#0000ff" stroke-width="1.25"/>
<polygon points="454.56,74.95 456.98,76.71 456.06,79.56 453.06,79.56 452.13,76.71" fill="none" stroke="#0000ff" stroke-width="1.25"/>
<polygon points="470.35,80.25 472.78,82.01 471.85,84.86 468.85,84.86 467.92,82.01" fill="none" stroke="#0000ff" stroke-width="1.25"/>
<polygon points="487.23,86.95 489.65,88.71 488.73,91.56 485.73,91.56 484.80,88.71" fill="none" stroke="#0000ff" stroke-width="1.25"/>
<polygon points="505.31,90.05 507.74,91.81 506.81,94.66 503.82,94.66 502.89,91.81" fill="none" stroke="#0000ff" stroke-width="1.25"/>
<polygon points="524.74,99.85 527.16,101.61 526.24,104.46 523.24,104.46 522.31,101.61" fill="none" stroke="#0000ff" stroke-width="1.25"/>
<polygon points="545.66,109.05 548.08,110.81 547.16,113.66 544.16,113.66 543.23,110.81" fill="none" stroke="#0000ff" stroke-width="1.25"/>
<polygon points="568.25,116.15 570.68,117.91 569.75,120.76 566.75,120.76 565.82,117.91" fill="none" stroke="#0000ff" stroke-width="1.25"/>
<polygon points="592.73,128.65 595.15,130.41 594.22,133.26 591.23,133.26 590.30,130.41" fill="none" stroke="#0000ff" stroke-width="1.25"/>
<polygon points="619.33,134.05 621.75,135.81 620.83,138.66 617.83,138.66 616.90,135.81" fill="none" stroke="#0000ff" stroke-width="1.25"/>
<polygon points="648.35,140.05 650.78,141.81 649.85,144.66 646.85,144.66 645.92,141.81" fill="none" stroke="#0000ff" stroke-width="1.25"/>
<polygon points="680.14,151.35 682.56,153.11 681.63,155.96 678.64,155.96 677.71,153.11" fill="none" stroke="#0000ff" stroke-width="1.25"/>
<polygon points="715.10,172.25 717.53,174.01 716.60,176.86 713.60,176.86 712.67,174.01" fill="none" stroke="#0000ff" stroke-width="1.25"/>
<rect x="418.10" y="128.6" width="51.70" height="104.90" fill="#fff" stroke="#000" stroke-width="1.2"/>
<rect x="425.36" y="131.36" width="5.08" height="5.08" fill="#000000"/>
<text x="436.10" y="136.10" font-size="6.4" fill="#333" text-rendering="geometricPrecision">MeOH.MSD</text>
<polygon points="427.90,138.60 431.30,144.54 424.50,144.54" fill="#1e96ff"/>
<text x="436.10" y="144.07" font-size="6.4" fill="#333" text-rendering="geometricPrecision">EtOH.MSD</text>
<circle cx="427.90" cy="149.84" r="2.65" fill="#ff0000"/>
<text x="436.10" y="152.04" font-size="6.4" fill="#333" text-rendering="geometricPrecision">PrOH.MSD</text>
<polygon points="427.90,154.14 431.30,157.81 427.90,161.48 424.50,157.81" fill="#008000"/>
<text x="436.10" y="160.01" font-size="6.4" fill="#333" text-rendering="geometricPrecision">BuOH.MSD</text>
<polygon points="427.90,169.05 431.30,163.11 424.50,163.11" fill="#ff00ff"/>
<text x="436.10" y="167.98" font-size="6.4" fill="#333" text-rendering="geometricPrecision">PeOH.MSD</text>
<polygon points="427.90,170.81 430.98,173.05 429.80,176.67 426.00,176.67 424.82,173.05" fill="#0000ff"/>
<text x="436.10" y="175.95" font-size="6.4" fill="#333" text-rendering="geometricPrecision">HxOH.MSD</text>
<rect x="425.99" y="179.81" width="3.83" height="3.83" fill="none" stroke="#000000" stroke-width="1.25"/>
<text x="436.10" y="183.92" font-size="6.4" fill="#333" text-rendering="geometricPrecision">MeOH.GK</text>
<polygon points="427.90,187.11 430.49,191.80 425.31,191.80" fill="none" stroke="#1e96ff" stroke-width="1.25"/>
<text x="436.10" y="191.89" font-size="6.4" fill="#333" text-rendering="geometricPrecision">EtOH.GK</text>
<circle cx="427.90" cy="197.66" r="2.02" fill="none" stroke="#ff0000" stroke-width="1.25"/>
<text x="436.10" y="199.86" font-size="6.4" fill="#333" text-rendering="geometricPrecision">PrOH.GK</text>
<polygon points="427.90,202.58 430.68,205.63 427.90,208.68 425.12,205.63" fill="none" stroke="#008000" stroke-width="1.25"/>
<text x="436.10" y="207.83" font-size="6.4" fill="#333" text-rendering="geometricPrecision">BuOH.GK</text>
<polygon points="427.90,216.18 430.49,211.49 425.31,211.49" fill="none" stroke="#ff00ff" stroke-width="1.25"/>
<text x="436.10" y="215.80" font-size="6.4" fill="#333" text-rendering="geometricPrecision">PeOH.GK</text>
<polygon points="427.90,219.38 430.27,221.10 429.36,223.88 426.44,223.88 425.53,221.10" fill="none" stroke="#0000ff" stroke-width="1.25"/>
<text x="436.10" y="223.77" font-size="6.4" fill="#333" text-rendering="geometricPrecision">HxOH.GK</text>
<text x="420.40" y="231.20" font-size="6.4" fill="#333" text-rendering="geometricPrecision">lines: Exp.</text>
<rect x="407.00" y="6.00" width="323.40" height="240.30" fill="none" stroke="#000" stroke-width="1.5"/>
<path d="M421.40 246.3v-5M421.40 6.0v5M436.09 246.3v-2.6M436.09 6.0v2.6M450.77 246.3v-2.6M450.77 6.0v2.6M465.45 246.3v-2.6M465.45 6.0v2.6M480.14 246.3v-2.6M480.14 6.0v2.6M494.83 246.3v-5M494.83 6.0v5M509.51 246.3v-2.6M509.51 6.0v2.6M524.20 246.3v-2.6M524.20 6.0v2.6M538.88 246.3v-2.6M538.88 6.0v2.6M553.57 246.3v-2.6M553.57 6.0v2.6M568.25 246.3v-5M568.25 6.0v5M582.93 246.3v-2.6M582.93 6.0v2.6M597.62 246.3v-2.6M597.62 6.0v2.6M612.31 246.3v-2.6M612.31 6.0v2.6M626.99 246.3v-2.6M626.99 6.0v2.6M641.67 246.3v-5M641.67 6.0v5M656.36 246.3v-2.6M656.36 6.0v2.6M671.05 246.3v-2.6M671.05 6.0v2.6M685.73 246.3v-2.6M685.73 6.0v2.6M700.42 246.3v-2.6M700.42 6.0v2.6M715.10 246.3v-5M715.10 6.0v5M729.78 246.3v-2.6M729.78 6.0v2.6M407.0 6.00h4.5M730.4000000000001 6.00h-4.5M407.0 17.45h2.2M730.4000000000001 17.45h-2.2M407.0 28.90h2.2M730.4000000000001 28.90h-2.2M407.0 40.35h2.2M730.4000000000001 40.35h-2.2M407.0 51.80h2.2M730.4000000000001 51.80h-2.2M407.0 63.25h4.5M730.4000000000001 63.25h-4.5M407.0 74.70h2.2M730.4000000000001 74.70h-2.2M407.0 86.15h2.2M730.4000000000001 86.15h-2.2M407.0 97.60h2.2M730.4000000000001 97.60h-2.2M407.0 109.05h2.2M730.4000000000001 109.05h-2.2M407.0 120.50h4.5M730.4000000000001 120.50h-4.5M407.0 131.95h2.2M730.4000000000001 131.95h-2.2M407.0 143.40h2.2M730.4000000000001 143.40h-2.2M407.0 154.85h2.2M730.4000000000001 154.85h-2.2M407.0 166.30h2.2M730.4000000000001 166.30h-2.2M407.0 177.75h4.5M730.4000000000001 177.75h-4.5M407.0 189.20h2.2M730.4000000000001 189.20h-2.2M407.0 200.65h2.2M730.4000000000001 200.65h-2.2M407.0 212.10h2.2M730.4000000000001 212.10h-2.2M407.0 223.55h2.2M730.4000000000001 223.55h-2.2M407.0 235.00h4.5M730.4000000000001 235.00h-4.5" stroke="#000" stroke-width="1.3" fill="none"/>
<text x="421.40" y="261.2" font-size="11" text-anchor="middle">3.0</text>
<text x="494.83" y="261.2" font-size="11" text-anchor="middle">3.5</text>
<text x="568.25" y="261.2" font-size="11" text-anchor="middle">4.0</text>
<text x="641.67" y="261.2" font-size="11" text-anchor="middle">4.5</text>
<text x="715.10" y="261.2" font-size="11" text-anchor="middle">5.0</text>
<text x="400.90" y="9.60" font-size="11" text-anchor="end">-8</text>
<text x="400.90" y="66.85" font-size="11" text-anchor="end">-9</text>
<text x="400.90" y="124.10" font-size="11" text-anchor="end">-10</text>
<text x="400.90" y="181.35" font-size="11" text-anchor="end">-11</text>
<text x="400.90" y="238.60" font-size="11" text-anchor="end">-12</text>
<text x="534.30" y="273.80" font-size="14.5">10</text>
<text x="547.70" y="269.80" font-size="9.5">3</text>
<text x="552.20" y="273.80" font-size="14.5" font-style="italic">T</text>
<text x="563.60" y="269.20" font-size="9.5" font-style="italic">-1</text>
<text x="572.60" y="273.80" font-size="14.5">(K</text>
<text x="589.70" y="268.90" font-size="9.5">-1</text>
<text x="596.70" y="273.80" font-size="14.5">)</text>
<text transform="translate(384.10,166.60) rotate(-90)" font-size="14.5">log</text>
<text transform="translate(388.40,149.00) rotate(-90)" font-size="9">10</text>
<text transform="translate(384.10,140.20) rotate(-90)" font-size="14.5">(</text>
<text transform="translate(384.10,135.50) rotate(-90)" font-size="14.5" font-style="italic">D</text>
<text transform="translate(384.10,124.80) rotate(-90)" font-size="14.5">/</text>
<text transform="translate(384.10,120.80) rotate(-90)" font-size="14.5">m</text>
<text transform="translate(378.30,108.80) rotate(-90)" font-size="9.5">2</text>
<text transform="translate(384.10,104.60) rotate(-90)" font-size="14.5">s</text>
<text transform="translate(378.30,97.80) rotate(-90)" font-size="9.5">-1</text>
<text transform="translate(384.10,89.60) rotate(-90)" font-size="14.5">)</text>
<rect x="563.60" y="15.8" width="80.10" height="21.30" fill="#fff" stroke="#000" stroke-width="1.2"/>
<text x="603.65" y="30.8" font-size="15" text-anchor="middle">TraPPE-UA</text>
<text x="715.60" y="25.6" font-size="14" text-anchor="middle">(b)</text></svg>
</body></html>
